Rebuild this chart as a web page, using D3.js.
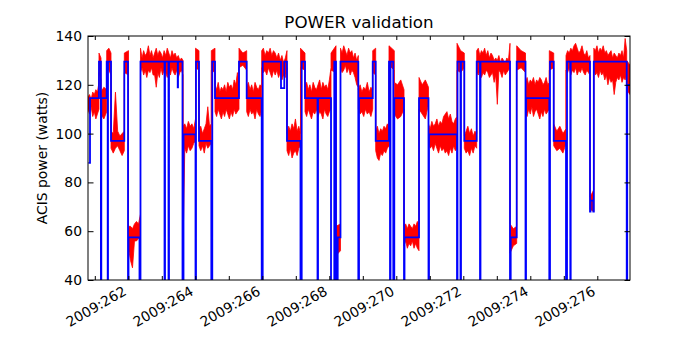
<!DOCTYPE html>
<html>
<head>
<meta charset="utf-8">
<script src="https://cdn.jsdelivr.net/npm/d3@7"></script>
<style>
  html, body { margin: 0; padding: 0; background: #fff; }
  svg text { font-family: "DejaVu Sans", sans-serif; fill: #000; }
</style>
</head>
<body>
<svg id="chart" width="700" height="350"></svg>
<script>
// ---------------- data ----------------
const title = "POWER validation";
const yLabel = "ACIS power (watts)";
const xTicks = [261,262,263,264,265,266,267,268,269,270,271,272,273,274,275,276];
const xTickLabels = {262:"2009:262",264:"2009:264",266:"2009:266",268:"2009:268",270:"2009:270",272:"2009:272",274:"2009:274",276:"2009:276"};
const yTicks = [40,60,80,100,120,140];

// Model (blue, step): change times (day of year) and values (watts)
const blueT = [260.812,260.857,261.125,261.182,261.194,261.355,261.385,261.394,261.484,261.881,
  261.991,262.006,262.334,262.364,263.081,263.096,263.200,263.215,263.475,263.484,
  263.618,263.648,264.006,264.021,264.110,264.478,264.507,264.588,265.304,265.534,
  265.982,266.012,266.558,266.657,266.737,267.140,267.176,267.275,267.648,267.663,
  268.051,268.149,268.200,268.251,268.334,268.866,268.887,269.296,269.385,269.782,
  269.812,269.827,269.910,269.940,270.230,270.245,270.678,270.961,270.976,271.812,
  271.827,271.916,271.931,272.030,272.400,272.499,272.513,273.394,273.415,273.594,
  273.857,273.872,274.567,274.588,274.699,275.066,275.096,275.194,275.206,275.782,
  275.797,275.881,275.896,276.878,276.893,276.976];
const blueV = [88,114.5,129.5,0,114.5,129.5,0,129.5,97,129.5,
  0,57.5,0,129.5,0,129.5,0,129.5,119,129.5,
  0,99.7,0,129.5,97,0,129.5,114.5,129.5,114.5,
  0,129.5,118.6,129.5,97,0,129.5,114.5,0,114.5,
  0,129.5,0,57.5,129.5,0,114.5,129.5,97,129.5,
  0,129.5,0,114.5,0,57.5,114.5,0,99.7,0,
  129.5,0,129.5,97,129.5,0,129.5,0,57.5,129.5,
  0,114.5,0,129.5,97,0,129.5,0,129.5,68,
  72.5,68,129.5,0,120,120];

// Telemetry (red): segment boundaries and envelope (low / high) readings per segment
const redBounds = [260.797,261.125,261.185,261.355,261.484,261.881,262.006,262.364,263.633,264.006,
  264.110,264.478,264.588,265.304,265.534,265.982,266.737,267.140,267.275,268.051,
  268.200,268.334,268.866,269.296,269.385,269.782,269.940,270.230,270.678,270.961,
  271.812,272.030,272.400,273.394,273.594,273.857,274.567,274.699,275.066,275.782,
  275.896,276.878,276.976];
const redHi = [
  [115,116,114,117,116,118,117,121],
  [133,131],
  [117,119,118],
  [134,135,133],
  [101,100,117,101,99,100,101],
  [133,134],
  [62,62,61,63,64,63,67],
  [135,131,134,132,133,136,132,134,131,133,135,132,134,133,131,134,132,135,133,131,134,132,133,131,132,130,131,130],
  [103,104,102,105,103,104,102,106],
  [135,134],
  [102,103,100,102,104,111,103,104],
  [134,135],
  [120,118,121,117,119,118,120,117,121,119,120,118,122,120,125,121],
  [135,133,134],
  [119,121,118,120,117,121,119,118,120,119],
  [134,135,132,134,133,135,132,134,133,131,133,130,132,129,131,134],
  [100,103,101,104,102,106,101,103,100],
  [135,133],
  [119,121,118,120,117,121,119,118,120,122,118,121,119,120,118,122,127],
  [133,136],
  [62,63],
  [135,133,136,134,132,135,133,134,131,133,130,132],
  [118,120,117,119,118,121,117,119,118],
  [134,135],
  [101,103,100,102,101,103,102,104,103],
  [136,134],
  [121,120,122,118],
  [62,63,61,63,62,61,63,62,64,63],
  [123,120,122,119],
  [104,102,105,103,104,106,103,105,104,107,108,109,106,108,105,104,106,107],
  [137,134,133],
  [99,101,103,100,102,99,101,100],
  [134,135,132,134,133,135,132,134,131,133,132,130,131,130,132,129,131,130,129,131,130,137],
  [63,61,62],
  [136,134,133],
  [121,123,120,122,121,123,120,122,121,123,122,120,121,123,120,121],
  [134,133],
  [104,101,103,100,102],
  [132,134,133,135,134,136,137,135,133,134,136,133,132,134,131,132],
  [74,77],
  [135,134,136,133,135,134,136,133,134,132,133,134,131,133,132,131,133,132,134,131,139,134],
  [130,128]];
const redLo = [
  [110,108,111,107,109,106,108,110],
  [125,122],
  [108,106,109],
  [127,126,124],
  [94,92,94,95,93,91,93],
  [125,124],
  [53,48,45,56,56,57,57],
  [125,127,124,126,123,126,125,127,124,124,119,125,123,127,124,126,125,123,126,124,127,125,124,126,123,125,126,124],
  [52,94,92,95,93,94,96,97],
  [127,126],
  [95,93,95,92,96,94,95,96],
  [126,125],
  [109,107,110,108,106,109,107,110,108,106,109,107,110,108,109,110],
  [127,128,126],
  [109,107,110,108,109,106,110,108,107,110],
  [127,125,126,124,127,125,123,126,124,126,123,125,122,124,123,127],
  [93,91,94,90,92,93,91,94,95],
  [127,126],
  [109,107,110,108,106,109,108,110,107,109,108,106,110,108,107,109,110],
  [126,125],
  [50,52],
  [127,125,126,128,125,127,124,126,125,123,120,119],
  [110,108,109,107,110,108,109,107,110],
  [125,124],
  [93,90,89,92,91,93,92,94,95],
  [128,126],
  [108,106,107,110],
  [54,56,53,55,54,56,53,55,53,52],
  [110,108,106,112],
  [96,94,95,93,96,94,92,95,93,94,92,93,91,94,92,95,93,94],
  [126,125,127],
  [94,92,93,91,94,92,95,94],
  [125,124,126,123,125,124,126,125,123,124,125,121,124,112,126,125,123,126,124,125,126,127],
  [51,54,55],
  [126,127,125],
  [109,107,110,108,111,107,109,110,108,106,109,107,110,108,109,110],
  [126,127],
  [95,93,94,92,96],
  [126,125,127,124,126,125,127,124,126,125,127,125,124,126,125,124],
  [69,68],
  [126,124,125,123,126,124,125,122,124,120,123,121,122,116,121,123,122,124,121,123,122,124],
  [118,116]];

// ---------------- chart ----------------
const mLeft = 88, mRight = 630, mTop = 36, mBottom = 280;
const svg = d3.select("#chart");

const x = d3.scaleLinear().domain([260.797, 276.976]).range([mLeft, mRight]);
const y = d3.scaleLinear().domain([40, 140]).range([mBottom, mTop]);

svg.append("defs").append("clipPath").attr("id", "plotclip")
  .append("rect").attr("x", mLeft).attr("y", mTop).attr("width", mRight - mLeft).attr("height", mBottom - mTop);

const plot = svg.append("g").attr("clip-path", "url(#plotclip)");

// red telemetry band
const redPts = [];
redHi.forEach((hi, i) => {
  const t0 = redBounds[i], t1 = redBounds[i + 1], n = hi.length;
  hi.forEach((h, j) => {
    redPts.push({ t: t0 + (t1 - t0) * j / (n - 1), hi: h, lo: redLo[i][j] });
  });
});
const area = d3.area().x(d => x(d.t)).y0(d => y(d.lo)).y1(d => y(d.hi));
plot.append("path").datum(redPts).attr("d", area)
  .attr("fill", "#ff0000").attr("stroke", "#ff0000").attr("stroke-width", 0.8)
  .attr("stroke-linejoin", "miter");

// blue model steps
const bluePts = blueT.map((t, i) => ({ t, v: blueV[i] }));
const line = d3.line().x(d => x(d.t)).y(d => y(d.v)).curve(d3.curveStepAfter);
plot.append("path").datum(bluePts).attr("d", line)
  .attr("fill", "none").attr("stroke", "#0000ff").attr("stroke-width", 1.8);

// axes
const fmt = d => xTickLabels[d] || "";
const xb = svg.append("g").attr("transform", `translate(0,${mBottom})`)
  .call(d3.axisBottom(x).tickValues(xTicks).tickSizeInner(-4).tickSizeOuter(0).tickFormat(fmt));
xb.selectAll("text")
  .attr("x", 0).attr("y", 0).attr("dy", null)
  .attr("text-anchor", "end")
  .attr("transform", "translate(-1.5,14) rotate(-30)")
  .style("font-size", "13.9px");
const xt = svg.append("g").attr("transform", `translate(0,${mTop})`)
  .call(d3.axisTop(x).tickValues(xTicks).tickSizeInner(-4).tickSizeOuter(0).tickFormat(""));

const yl = svg.append("g").attr("transform", `translate(${mLeft},0)`)
  .call(d3.axisLeft(y).tickValues(yTicks).tickSizeInner(-5.5).tickSizeOuter(0).tickPadding(6));
yl.selectAll("text").style("font-size", "13.9px");
const yr = svg.append("g").attr("transform", `translate(${mRight},0)`)
  .call(d3.axisRight(y).tickValues(yTicks).tickSizeInner(-5.5).tickSizeOuter(0).tickFormat(""));

[xb, xt, yl, yr].forEach(g => {
  g.select(".domain").remove();
  g.selectAll(".tick line").attr("stroke", "#000").attr("stroke-width", 1);
  g.attr("font-family", null);
});

// frame
svg.append("rect").attr("x", mLeft).attr("y", mTop).attr("width", mRight - mLeft).attr("height", mBottom - mTop)
  .attr("fill", "none").attr("stroke", "#000").attr("stroke-width", 1);

// title & labels
svg.append("text").attr("x", (mLeft + mRight) / 2).attr("y", 28).attr("text-anchor", "middle")
  .style("font-size", "16.7px").text(title);
svg.append("text").attr("transform", `translate(47,${(mTop + mBottom) / 2}) rotate(-90)`)
  .attr("text-anchor", "middle").style("font-size", "13.9px").text(yLabel);
</script>
</body>
</html>
